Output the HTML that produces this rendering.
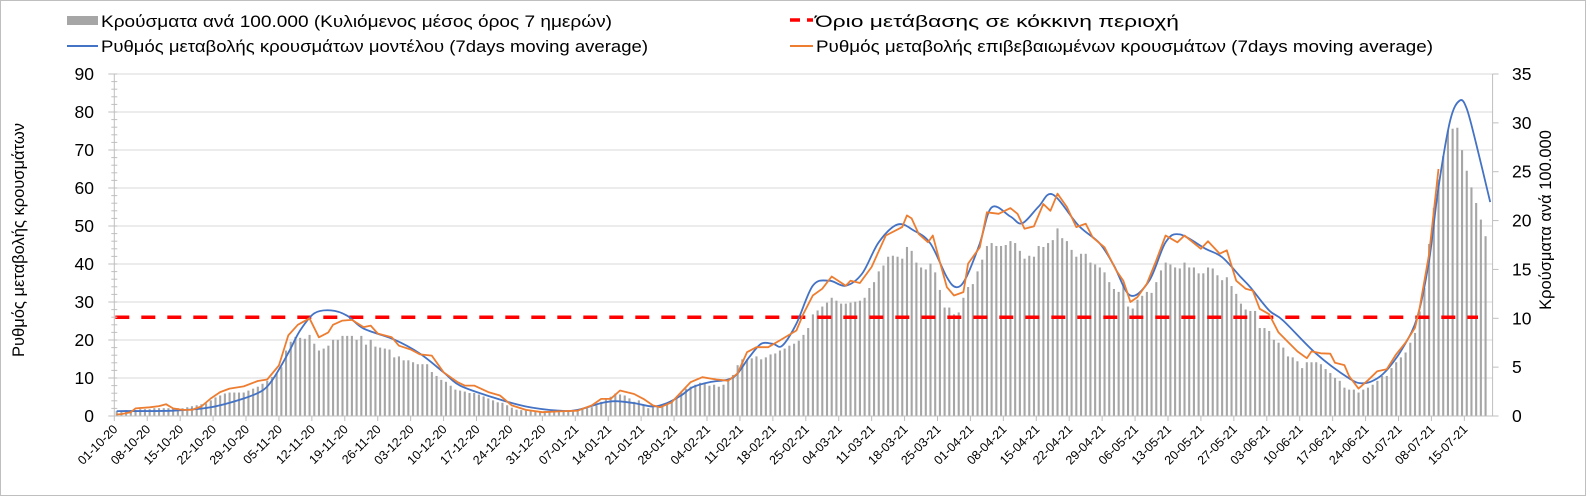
<!DOCTYPE html>
<html><head><meta charset="utf-8"><style>
html,body{margin:0;padding:0;background:#fff;}
svg{display:block;font-family:"Liberation Sans",Arial,sans-serif;}
</style></head><body>
<svg id="chart" width="1590" height="497" viewBox="0 0 1590 497" xmlns="http://www.w3.org/2000/svg">
<rect x="0.5" y="0.5" width="1585" height="495" fill="#fff" stroke="#bfbfbf"/>
<g id="grid"></g>
<g id="bars"></g>
<g id="lines"></g>
<g id="axes"></g>
<g>
 <g>
  <rect x="67" y="16" width="31" height="9" fill="#a6a6a6"/>
  <text x="101" y="27" font-size="16.5" textLength="511" lengthAdjust="spacingAndGlyphs" fill="#000">Κρούσματα ανά 100.000 (Κυλιόμενος μέσος όρος 7 ημερών)</text>
 </g>
 <g>
  <line x1="67" y1="46" x2="98" y2="46" stroke="#4472c4" stroke-width="2"/>
  <text x="101" y="52" font-size="16.5" textLength="547" lengthAdjust="spacingAndGlyphs" fill="#000">Ρυθμός μεταβολής κρουσμάτων μοντέλου (7days moving average)</text>
 </g>
 <g>
  <line x1="790" y1="20" x2="813" y2="20" stroke="#ff0000" stroke-width="3.5" stroke-dasharray="10,7"/>
  <text x="815" y="27" font-size="16.5" textLength="364" lengthAdjust="spacingAndGlyphs" fill="#000">Όριο μετάβασης σε κόκκινη περιοχή</text>
 </g>
 <g>
  <line x1="790" y1="46" x2="813" y2="46" stroke="#ed7d31" stroke-width="2"/>
  <text x="816" y="52" font-size="16.5" textLength="617" lengthAdjust="spacingAndGlyphs" fill="#000">Ρυθμός μεταβολής επιβεβαιωμένων κρουσμάτων (7days moving average)</text>
 </g>
</g>
<text transform="translate(24,240) rotate(-90)" text-anchor="middle" font-size="16.5" fill="#000">Ρυθμός μεταβολής κρουσμάτων</text>
<text transform="translate(1551,220) rotate(-90)" text-anchor="middle" font-size="16.5" fill="#000">Κρούσματα ανά 100.000</text>
</svg>
<script>
const bars = [
0.5,0.5,0.6,0.6,0.6,0.7,0.7,
0.7,0.8,0.8,0.8,0.8,0.8,0.8,
0.8,0.9,1.0,1.1,1.2,1.3,1.6,
1.9,2.1,2.3,2.4,2.4,2.4,2.4,
2.6,2.8,3.0,3.3,3.6,4.0,4.4,
5.0,6.7,7.6,8.1,8.0,7.9,8.3,
7.4,6.7,6.9,7.2,7.8,7.8,8.2,
8.2,8.2,7.8,8.2,7.3,7.8,7.1,
7.0,6.9,6.8,6.0,6.1,5.7,5.7,
5.5,5.3,5.3,5.3,4.5,4.1,3.7,
3.5,3.1,2.7,2.6,2.5,2.35,2.35,
2.2,2.0,1.8,1.6,1.4,1.35,1.1,
0.85,0.65,0.6,0.55,0.5,0.5,0.5,
0.5,0.5,0.5,0.5,0.5,0.5,0.6,
0.6,0.7,0.8,0.9,1.1,1.45,1.8,
1.97,2.3,2.2,2.1,1.8,1.45,1.6,
1.1,0.8,0.9,0.95,1.1,1.35,1.6,
1.9,2.5,2.8,3.0,3.2,3.4,3.3,
3.1,3.2,3.0,3.2,3.6,4.2,5.2,
5.8,5.8,5.9,6.1,5.8,6.0,6.3,
6.4,6.7,6.9,7.2,7.4,7.7,8.3,
9.0,10.4,10.8,11.2,11.6,12.1,11.8,
11.5,11.5,11.6,11.7,11.8,12.1,13.1,
13.7,14.8,15.4,16.3,16.4,16.3,16.1,
17.3,16.9,15.7,15.2,15.0,15.6,14.7,
12.9,11.1,11.1,10.4,10.6,12.1,13.2,
13.5,14.8,16.0,17.4,17.7,17.4,17.4,
17.5,17.9,17.7,16.9,16.1,16.4,16.3,
17.4,17.3,17.7,18.0,19.2,18.2,17.9,
17.0,16.3,16.6,16.6,15.7,15.5,15.2,
14.7,13.7,13.0,12.7,13.6,11.2,11.0,
11.9,12.3,12.7,12.6,13.7,14.9,15.7,
15.5,15.2,15.1,15.7,15.2,15.2,14.6,
14.6,15.2,15.1,14.4,13.9,14.2,13.3,
12.5,11.5,10.9,10.75,10.75,9.0,9.0,
8.7,7.8,7.5,7.0,6.1,6.0,5.6,
4.9,5.5,5.5,5.5,5.3,4.8,4.4,
3.9,3.6,2.9,2.7,2.7,2.4,2.7,
2.9,3.2,3.6,4.1,4.1,4.9,5.5,
6.0,6.5,7.5,8.5,10.7,13.1,17.6,
21.3,24.2,26.6,29.2,29.4,29.5,27.2,
25.1,23.4,21.8,20.1,18.4
];
const blueDays = [0,12,20,27,31,33,35,37,39,42,45.5,49,52.5,59,64.5,69.5,73,80,87,94,98,103,106,110,114,117,120,122.5,126,130,132,134.5,137,139.5,141.5,144.5,148,151.5,155,158.5,162,166,169.5,173,176.5,178.5,180.5,183.5,186,190,192.5,196,199,204.5,209,212,215.5,219.5,223,226,231.5,235,239,241,245,248,255,262,265,268,270.5,273.5,276.5,279,281,283.5,285.5,287,289,292];
const blueVals = [1.3,1.4,2.3,4.6,6.7,9.3,13.3,17.8,22.5,27,27.8,26.4,23,20.1,16.4,11.5,8.0,4.9,2.5,1.4,1.6,3.4,3.9,3.4,2.5,3.4,5.4,7.6,8.9,9.6,11.2,15.5,19,19,18.5,24.3,34.3,35.6,34.3,37.5,45.7,50.4,48.8,45.4,36.5,33.9,36.2,45.4,54.9,52.5,50.7,55.1,58.3,50.1,45.4,39.6,31.7,35.6,45.7,47.8,44,41.8,36.5,33.9,27.8,25.1,16.4,9.9,8.6,9.9,12.8,18.1,26,40.9,60.2,77.8,83,80.9,71.7,56.3];
const orangeDays = [0,1,3,4,7,9,10.5,12,14,16,18,20,22,24,27,30,32,34.5,36.5,38.5,41,43,45,46,48,50,52.5,54,55.5,58.5,60,62.5,64.5,67,69.5,72.5,74,76,79,81.5,84,87,90.5,94,98,101,103,105,107,110,112,114,115.5,118,122,124.5,127.5,130,132,134,136,138.5,141,144.5,146,148,150,152,155,156,158,160.5,163.5,167,168,169,170.5,172.5,173.5,175,176.5,178,180,181,183.5,185,187.5,190,191.5,193,195,197,198.5,200,202,204,206,207.5,210,212.5,214,215.5,217,219,221,223,225.5,227,230.5,232,234.5,236,238,240,241.5,243,245,247,249,251,253,254,256,258,259,261,262,264,266,268,270,272,274,276,277,279,281];
const orangeVals = [0.4,0.5,1,2.0,2.3,2.6,3.1,2.0,1.6,1.6,2.5,4.6,6.3,7.2,7.8,9.2,9.6,13.3,21.2,24,25.7,20.7,22,24,25.1,25.3,23.4,23.8,21.7,20.7,18.5,17.5,16.2,15.9,11.5,8.9,8.0,8.0,6.3,5.4,2.8,1.6,1.0,1.2,1.4,2.8,4.5,4.5,6.7,5.8,4.5,2.8,2.3,3.6,8.9,10.2,9.6,9.3,11.2,16.8,18.1,18.1,19.9,22.5,26.9,31.7,33.5,36.7,34.3,35.6,35,39.2,47.5,49.7,52.8,52,47.9,45.7,47.5,40.5,33.9,31.7,32.6,40.1,44.4,53.6,53.2,54.7,53.2,49.3,49.9,55.8,54,58.5,55,49.7,50.6,47,44.4,38.3,35.6,30,31.3,34.8,40.9,47.5,45.7,47.5,44,46,42.7,43.6,35.6,33.5,33,28.2,26.8,22,19.5,17,15.2,17,16.5,16.4,14,13.4,10.5,7.2,9.4,11.8,12.3,16.2,19.3,23.2,28.5,42.6,65];
const threshold = [26];
const leftTicks = [0,10,20,30,40,50,60,70,80,90];
const rightTicks = [0,5,10,15,20,25,30,35];
const xTickLabels = ["01-10-20","08-10-20","15-10-20","22-10-20","29-10-20","05-11-20","12-11-20","19-11-20","26-11-20","03-12-20","10-12-20","17-12-20","24-12-20","31-12-20","07-01-21","14-01-21","21-01-21","28-01-21","04-02-21","11-02-21","18-02-21","25-02-21","04-03-21","11-03-21","18-03-21","25-03-21","01-04-21","08-04-21","15-04-21","22-04-21","29-04-21","06-05-21","13-05-21","20-05-21","27-05-21","03-06-21","10-06-21","17-06-21","24-06-21","01-07-21","08-07-21","15-07-21"];

const NS="http://www.w3.org/2000/svg";
const X0=114.3, DX=4.704, NCAT=293, Y0=416, YTOP=74;
const LMAX=90, RMAX=35;
function xCat(d){return X0+DX*(d+0.5);}
function xEdge(i){return X0+DX*i;}
function yL(v){return Y0-(v/LMAX)*(Y0-YTOP);}
function yR(v){return Y0-(v/RMAX)*(Y0-YTOP);}
function mk(tag,attrs,parent){const e=document.createElementNS(NS,tag);for(const k in attrs)e.setAttribute(k,attrs[k]);parent.appendChild(e);return e;}

const grid=document.getElementById('grid'), gb=document.getElementById('bars'), gl=document.getElementById('lines'), ga=document.getElementById('axes');
const XR=xEdge(NCAT);
leftTicks.forEach(t=>{ if(t===0)return;
  const l=mk('line',{x1:X0,x2:XR,y1:yL(t),y2:yL(t),stroke:'#d9d9d9','stroke-width':1},grid);
  
  
});
bars.forEach((v,d)=>{
  const h=Y0-yR(v);
  const r=mk('rect',{x:xCat(d)-1,y:yR(v),width:2.1,height:h,fill:'#a6a6a6'},gb);
  
  
});
// threshold line
const th=mk('line',{x1:X0+1,x2:1478,y1:yL(threshold[0]),y2:yL(threshold[0]),stroke:'#ff0000','stroke-width':3.5,'stroke-dasharray':'14,12'},gl);


function smoothPath(xs,ys){
  let p='M'+xs[0].toFixed(1)+','+ys[0].toFixed(1);
  for(let i=0;i<xs.length-1;i++){
    const x0=xs[Math.max(0,i-1)],y0=ys[Math.max(0,i-1)],x1=xs[i],y1=ys[i],x2=xs[i+1],y2=ys[i+1],x3=xs[Math.min(xs.length-1,i+2)],y3=ys[Math.min(xs.length-1,i+2)];
    const c1x=x1+(x2-x0)/6,c1y=y1+(y2-y0)/6,c2x=x2-(x3-x1)/6,c2y=y2-(y3-y1)/6;
    p+=' C'+c1x.toFixed(1)+','+c1y.toFixed(1)+' '+c2x.toFixed(1)+','+c2y.toFixed(1)+' '+x2.toFixed(1)+','+y2.toFixed(1);
  }
  return p;
}
const bp=mk('path',{d:smoothPath(blueDays.map(xCat),blueVals.map(yL)),fill:'none',stroke:'#4472c4','stroke-width':1.8},gl);


const op=mk('polyline',{points:orangeDays.map((d,i)=>xCat(d).toFixed(1)+','+yL(orangeVals[i]).toFixed(1)).join(' '),fill:'none',stroke:'#ed7d31','stroke-width':1.8,'stroke-linejoin':'round'},gl);



// axes
mk('line',{x1:X0,x2:X0,y1:YTOP,y2:Y0,stroke:'#bfbfbf','stroke-width':1},ga);
mk('line',{x1:XR,x2:XR,y1:YTOP,y2:Y0,stroke:'#bfbfbf','stroke-width':1},ga);
mk('line',{x1:X0,x2:XR,y1:Y0,y2:Y0,stroke:'#bfbfbf','stroke-width':1},ga);
for(let v=0;v<=LMAX;v+=2){ mk('line',{x1:X0-3,x2:X0+3,y1:yL(v),y2:yL(v),stroke:'#bfbfbf','stroke-width':1},ga); }
leftTicks.forEach(t=>{
  mk('line',{x1:X0-6,x2:X0,y1:yL(t),y2:yL(t),stroke:'#bfbfbf'},ga);
  const tx=mk('text',{x:94,y:yL(t)+6,'text-anchor':'end','font-size':17.5,fill:'#000'},ga);
  tx.textContent=t;
  
  
});
rightTicks.forEach(t=>{
  mk('line',{x1:XR,x2:XR+6,y1:yR(t),y2:yR(t),stroke:'#bfbfbf'},ga);
  const tx=mk('text',{x:1512,y:yR(t)+6,'font-size':17.5,fill:'#000'},ga);
  tx.textContent=t;
  
  
});
xTickLabels.forEach((lab,i)=>{
  const x=xEdge(i*7);
  mk('line',{x1:x,x2:x,y1:Y0,y2:Y0+5,stroke:'#bfbfbf'},ga);
  const tx=mk('text',{x:0,y:0,'text-anchor':'end','font-size':12.5,fill:'#000',transform:'translate('+(x+4)+','+(Y0+14)+') rotate(-45)'},ga);
  tx.textContent=lab;
  
  
});
</script>
</body></html>
